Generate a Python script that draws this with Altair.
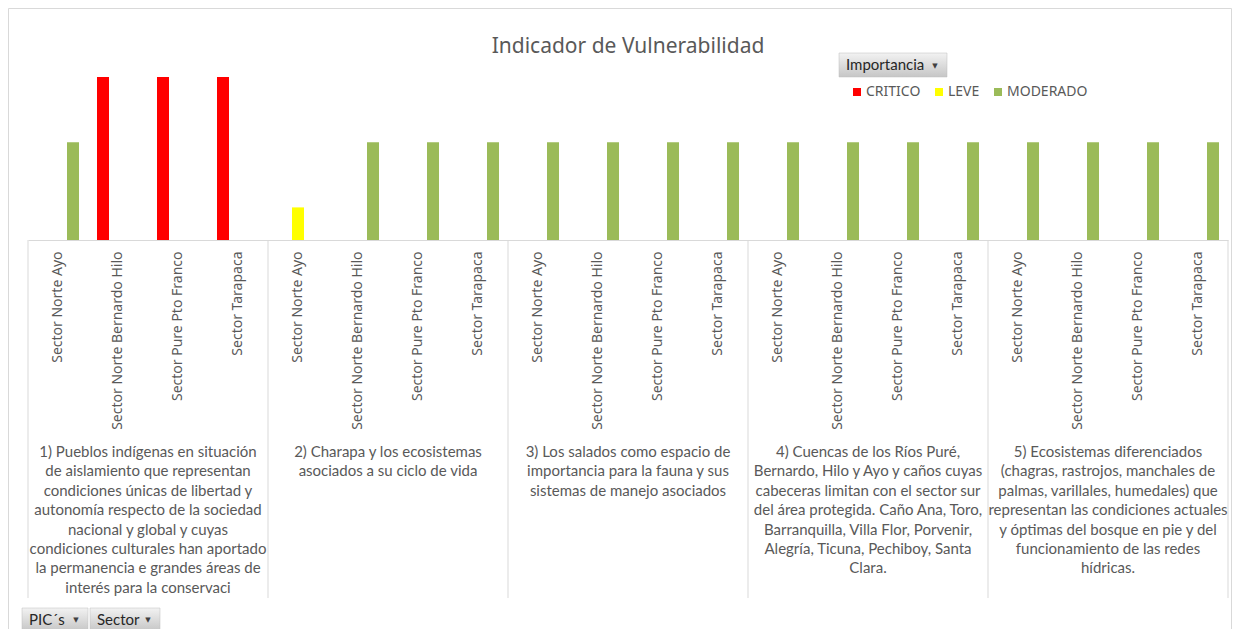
import altair as alt
import pandas as pd

# ---------------- data ----------------
chart_title = "Indicador de Vulnerabilidad"

sectors = [
    "Sector Norte Ayo",
    "Sector Norte Bernardo Hilo",
    "Sector Pure Pto Franco",
    "Sector Tarapaca",
]

pic_labels = [
    "1) Pueblos indígenas en situación\nde aislamiento que representan\ncondiciones únicas de libertad y\nautonomía respecto de la sociedad\nnacional y global y cuyas\ncondiciones culturales han aportado\nla permanencia  e grandes áreas de\ninterés para la conservaci",
    "2) Charapa y los ecosistemas\nasociados a su ciclo de vida",
    "3) Los salados como espacio de\nimportancia para la fauna  y sus\nsistemas de manejo asociados",
    "4) Cuencas de los Ríos Puré,\nBernardo, Hilo y Ayo y  caños cuyas\ncabeceras limitan con el sector sur\ndel área protegida. Caño Ana, Toro,\nBarranquilla, Villa Flor, Porvenir,\nAlegría, Ticuna, Pechiboy, Santa\nClara.",
    "5) Ecosistemas diferenciados\n(chagras, rastrojos,  manchales de\npalmas, varillales, humedales) que\nrepresentan las condiciones actuales\ny óptimas del bosque en pie y del\nfuncionamiento de las  redes\nhídricas.",
]

levels = ["CRITICO", "LEVE", "MODERADO"]
level_colors = ["#FF0000", "#FFFF00", "#9BBB59"]
level_values = [5, 1, 3]

importancia_pic1 = ["MODERADO", "CRITICO", "CRITICO", "CRITICO"]
importancia_pic2 = ["LEVE", "MODERADO", "MODERADO", "MODERADO"]
importancia_pic3 = ["MODERADO", "MODERADO", "MODERADO", "MODERADO"]
importancia_pic4 = ["MODERADO", "MODERADO", "MODERADO", "MODERADO"]
importancia_pic5 = ["MODERADO", "MODERADO", "MODERADO", "MODERADO"]
importancia_all = [importancia_pic1, importancia_pic2, importancia_pic3,
                   importancia_pic4, importancia_pic5]

button_labels = ["Importancia", "PIC´s", "Sector"]

# ---------------- tables ----------------
value_of = dict(zip(levels, level_values))
rows = []
keys = []
for gi, imps in enumerate(importancia_all):
    for s, imp in zip(sectors, imps):
        key = f"{gi + 1}|{s}"
        keys.append(key)
        rows.append({"key": key, "imp": imp, "value": value_of[imp]})
bars_df = pd.DataFrame(rows)

pic_df = pd.DataFrame({"gi": [i + 0.5 for i in range(len(pic_labels))],
                       "label": pic_labels})
div_df = pd.DataFrame({"b": list(range(len(pic_labels) + 1))})

W, H = 1200, 163
GREY = "#595959"
LINE = "#d9d9d9"

# ---------------- layers ----------------
bars = alt.Chart(bars_df).mark_bar().encode(
    x=alt.X("key:N", sort=keys,
            scale=alt.Scale(paddingInner=0.25, paddingOuter=0.125),
            axis=alt.Axis(title=None, labelAngle=270,
                          labelExpr="split(datum.label, '|')[1]",
                          ticks=False, tickSize=0, labelPadding=11,
                          domainColor=LINE, domainWidth=1,
                          labelFont="Noto Sans", labelFontSize=14,
                          labelColor=GREY, labelLimit=300, grid=False)),
    xOffset=alt.XOffset("imp:N", sort=levels,
                        scale=alt.Scale(domain=levels, paddingInner=0.2,
                                        paddingOuter=0.1)),
    y=alt.Y("value:Q", scale=alt.Scale(domain=[0, 5], nice=False), axis=None),
    color=alt.Color("imp:N",
                    scale=alt.Scale(domain=levels, range=level_colors),
                    legend=alt.Legend(title=None, orient="none",
                                      legendX=822, legendY=8,
                                      direction="horizontal", columns=3,
                                      symbolType="square", symbolSize=64,
                                      symbolStrokeWidth=0,
                                      labelFont="Noto Sans", labelFontSize=14,
                                      labelColor=GREY, columnPadding=11,
                                      labelOffset=2, padding=0)),
)

xq = alt.Scale(domain=[0, len(pic_labels)], nice=False, zero=False)

dividers = alt.Chart(div_df).mark_rule(color=LINE, strokeWidth=1).encode(
    x=alt.X("b:Q", scale=xq, axis=None),
    y=alt.value(H), y2=alt.value(521),
)

pic_text = alt.Chart(pic_df).mark_text(
    font="Lato", fontSize=15, color=GREY,
    align="center", baseline="top", lineBreak="\n", lineHeight=19.4,
).encode(
    x=alt.X("gi:Q", scale=xq, axis=None),
    y=alt.value(368),
    text="label:N",
)

one = pd.DataFrame({"t": [chart_title]})
title_mark = alt.Chart(one).mark_text(
    font="Noto Sans", fontSize=21, color=GREY, align="center",
    baseline="alphabetic",
).encode(x=alt.value(W / 2), y=alt.value(-24), text="t:N")

frame = alt.Chart(pd.DataFrame({"f": [0]})).mark_rect(
    fill="transparent", stroke=LINE, strokeWidth=1,
).encode(x=alt.value(-19.5), x2=alt.value(1203.5),
         y=alt.value(-68.5), y2=alt.value(600))

grad = alt.LinearGradient(
    gradient="linear", x1=0, x2=0, y1=0, y2=1,
    stops=[alt.GradientStop(color="#f2f2f2", offset=0),
           alt.GradientStop(color="#c6c6c6", offset=1)])


def button(label, x0, x1, y0, y1):
    d = pd.DataFrame({"t": [label]})
    box = alt.Chart(d).mark_rect(color=grad, stroke="#bdbdbd",
                                 strokeWidth=0.5).encode(
        x=alt.value(x0), x2=alt.value(x1), y=alt.value(y0), y2=alt.value(y1))
    txt = alt.Chart(d).mark_text(font="Lato", fontSize=15, color="#262626",
                                 align="left", baseline="middle").encode(
        x=alt.value(x0 + 7), y=alt.value((y0 + y1) / 2), text="t:N")
    arrow = alt.Chart(d).mark_text(text="▼", font="DejaVu Sans", fontSize=7,
                                   color="#404040", align="center",
                                   baseline="middle").encode(
        x=alt.value(x1 - 12), y=alt.value((y0 + y1) / 2 + 0.5))
    return [box, txt, arrow]


btn_layers = (button(button_labels[0], 811, 919, -24, 0)
              + button(button_labels[1], -6, 60, 531, 554)
              + button(button_labels[2], 62, 132, 531, 554))

chart = alt.layer(frame, dividers, pic_text, title_mark, bars,
                  *btn_layers).resolve_scale(
    x="independent"
).properties(
    width=W, height=H,
    background="white",
    autosize=alt.AutoSizeParams(type="none"),
    padding={"left": 20, "top": 69, "right": 4, "bottom": 389},
).configure_view(strokeOpacity=0)

chart.save("out.html", embed_options={"renderer": "svg", "actions": False})
